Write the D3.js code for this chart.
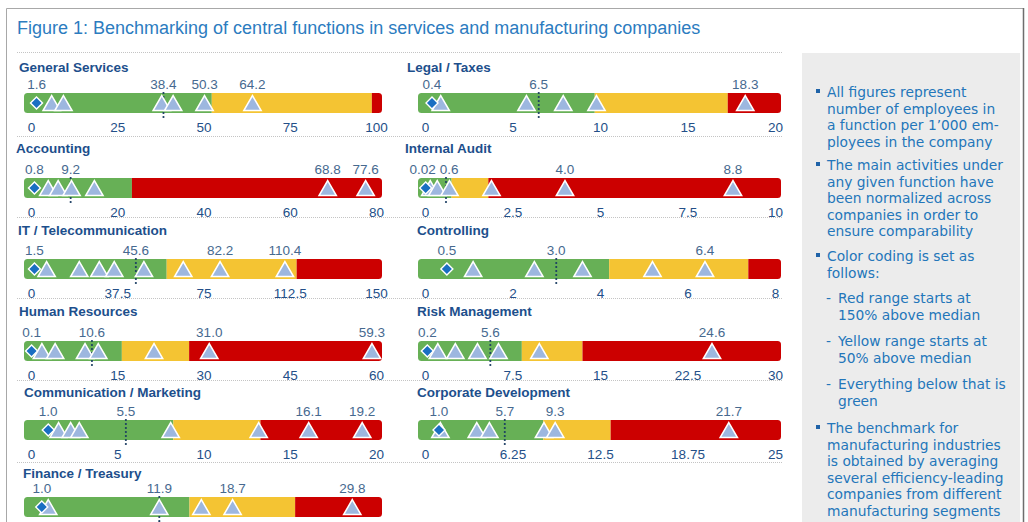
<!DOCTYPE html>
<html>
<head>
<meta charset="utf-8">
<script src="https://cdn.jsdelivr.net/npm/d3@7"></script>
<style>
  html, body { margin: 0; padding: 0; background: #fff; }
  svg { display: block; }
</style>
</head>
<body>
<svg id="fig" width="1028" height="522"></svg>
<script>
// Central functions benchmarked (employees per 1'000 employees)
const functionNames = [
  "General Services", "Legal / Taxes",
  "Accounting", "Internal Audit",
  "IT / Telecommunication", "Controlling",
  "Human Resources", "Risk Management",
  "Communication / Marketing", "Corporate Development",
  "Finance / Treasury"
];
const axisMax = [100, 20, 80, 10, 150, 8, 60, 30, 20, 25, 32];
// Finance / Treasury sits at the foot of the page, its scale runs below the fold
const axisTicks = [
  [0, 25, 50, 75, 100], [0, 5, 10, 15, 20],
  [0, 20, 40, 60, 80], [0, 2.5, 5, 7.5, 10],
  [0, 37.5, 75, 112.5, 150], [0, 2, 4, 6, 8],
  [0, 15, 30, 45, 60], [0, 7.5, 15, 22.5, 30],
  [0, 5, 10, 15, 20], [0, 6.25, 12.5, 18.75, 25],
  []
];
// Manufacturing benchmark (diamond)
const manufacturing = [1.6, 0.4, 0.8, 0.02, 1.5, 0.5, 0.1, 0.2, 1.0, 1.0, 1.0];
// Median of the services companies (dotted line)
const medians = [38.4, 6.5, 9.2, 0.6, 45.6, 3.0, 10.6, 5.6, 5.5, 5.7, 11.9];
// Start of the yellow and red ranges
const yellowFrom = [52.4, 9.7, 23.4, 0.76, 59.0, 4.21, 15.8, 8.3, 8.25, 8.45, 14.7];
const redFrom = [98.8, 17.3, 23.4, 1.81, 115.5, 7.39, 27.5, 13.5, 13.3, 13.26, 24.5];
// Individual services companies (triangles)
const services = [
  [6.0, 9.4, 37.9, 41.2, 50.3, 64.2],
  [0.9, 5.8, 7.9, 9.8, 18.3],
  [4.0, 6.3, 9.4, 14.7, 68.8, 77.6],
  [0.15, 0.35, 0.7, 1.9, 4.0, 8.8],
  [6.8, 21.0, 29.7, 36.2, 49.1, 66.2, 82.2, 110.4],
  [1.1, 2.5, 3.6, 5.2, 6.4],
  [1.9, 4.2, 9.4, 11.7, 21.4, 31.0, 59.3],
  [1.1, 2.6, 4.5, 6.3, 9.8, 24.6],
  [1.6, 2.3, 2.8, 8.1, 13.2, 16.1, 19.2],
  [1.1, 3.7, 4.6, 8.5, 9.3, 21.7],
  [1.6, 11.9, 15.8, 18.7, 29.8]
];
// Values printed above each bar
const valueLabels = [
  ["1.6", "38.4", "50.3", "64.2"],
  ["0.4", "6.5", "18.3"],
  ["0.8", "9.2", "68.8", "77.6"],
  ["0.02", "0.6", "4.0", "8.8"],
  ["1.5", "45.6", "82.2", "110.4"],
  ["0.5", "3.0", "6.4"],
  ["0.1", "10.6", "31.0", "59.3"],
  ["0.2", "5.6", "24.6"],
  ["1.0", "5.5", "16.1", "19.2"],
  ["1.0", "5.7", "9.3", "21.7"],
  ["1.0", "11.9", "18.7", "29.8"]
];

const notes = [
  { sub: false, lines: ["All figures represent", "number of employees in", "a function per 1\u2019000 em-", "ployees in the company"] },
  { sub: false, lines: ["The main activities under", "any given function have", "been normalized across", "companies in order to", "ensure comparability"] },
  { sub: false, lines: ["Color coding is set as", "follows:"] },
  { sub: true, lines: ["Red range starts at", "150% above median"] },
  { sub: true, lines: ["Yellow range starts at", "50% above median"] },
  { sub: true, lines: ["Everything below that is", "green"] },
  { sub: false, lines: ["The benchmark for", "manufacturing industries", "is obtained by averaging", "several efficiency-leading", "companies from different", "manufacturing segments"] }
];

// ---- layout ----
const C = {
  green: "#67b056", yellow: "#f4c433", red: "#cc0000",
  tri: "#9db7df", diamond: "#1a6fc2", median: "#1b3d62",
  title: "#2c7cbf", head: "#1d4f8c", value: "#46698f", tick: "#234f88",
  note: "#2376ba"
};
const colBar = [[24, 382], [418, 781]];
const titleX = [19, 407, 16, 405, 18, 417, 19, 417, 24, 417, 23];
const rowBarTop = [93, 178, 259, 341, 420, 497];
const rowHeadBase = [72, 153, 235, 316, 397, 478];
const separators = [52, 136, 217, 298, 380, 462];
const barH = 20;

const svg = d3.select("#fig");
const font = "'Liberation Sans', Arial, sans-serif";

// frame
svg.append("path")
  .attr("d", "M6.5,522 V8.5 H1023.5 V522")
  .attr("fill", "none").attr("stroke", "#a8a8a8").attr("stroke-width", 1);
svg.append("line").attr("x1", 1023.5).attr("x2", 1023.5).attr("y1", 8).attr("y2", 522)
  .attr("stroke", "#6e6e6e").attr("stroke-width", 1.5);

// notes panel background
svg.append("rect").attr("x", 802).attr("y", 53).attr("width", 218).attr("height", 480)
  .attr("fill", "#ececec");

// figure title
svg.append("text")
  .attr("x", 17).attr("y", 34)
  .attr("font-family", font).attr("font-size", 18).attr("fill", C.title)
  .text("Figure 1: Benchmarking of central functions in services and manufacturing companies");

// dotted separators
svg.selectAll("line.sep").data(separators).join("line")
  .attr("class", "sep")
  .attr("x1", 17).attr("x2", 783)
  .attr("y1", d => d + 0.5).attr("y2", d => d + 0.5)
  .attr("stroke", "#c4c4c4").attr("stroke-width", 1).attr("stroke-dasharray", "1,1");

const defs = svg.append("defs");

functionNames.forEach((name, i) => {
  const col = i % 2, row = Math.floor(i / 2);
  const [bx0, bx1] = colBar[col];
  const top = rowBarTop[row];
  const x = d3.scaleLinear().domain([0, axisMax[i]]).range([bx0 + 7, bx1 - 6]);
  const g = svg.append("g").attr("class", "panel");

  // heading
  g.append("text")
    .attr("x", titleX[i]).attr("y", rowHeadBase[row])
    .attr("font-family", font).attr("font-weight", "bold").attr("font-size", 13.5)
    .attr("fill", C.head).text(name);

  // colour-coded bar
  const clipId = "clip" + i;
  defs.append("clipPath").attr("id", clipId)
    .append("rect").attr("x", bx0).attr("y", top).attr("width", bx1 - bx0).attr("height", barH)
    .attr("rx", 3.5);
  const bands = [
    { from: bx0, to: x(yellowFrom[i]), color: C.green },
    { from: x(yellowFrom[i]), to: x(redFrom[i]), color: C.yellow },
    { from: x(redFrom[i]), to: bx1, color: C.red }
  ];
  g.append("g").attr("clip-path", `url(#${clipId})`)
    .selectAll("rect").data(bands).join("rect")
    .attr("x", d => d.from).attr("width", d => Math.max(0, d.to - d.from))
    .attr("y", top).attr("height", barH).attr("fill", d => d.color);

  // median
  g.append("line")
    .attr("x1", x(medians[i])).attr("x2", x(medians[i]))
    .attr("y1", top).attr("y2", top + barH + 8)
    .attr("stroke", C.median).attr("stroke-width", 2.2)
    .attr("stroke-linecap", "round").attr("stroke-dasharray", "0,4");

  // services companies
  g.selectAll("path.tri").data(services[i]).join("path")
    .attr("class", "tri")
    .attr("d", d3.symbol(d3.symbolTriangle, 130)())
    .attr("transform", d => `translate(${x(d)},${top + 12.6})`)
    .attr("fill", C.tri).attr("stroke", "#fff").attr("stroke-width", 1.5);

  // manufacturing benchmark
  g.append("path")
    .attr("d", d3.symbol(d3.symbolSquare, 72)())
    .attr("transform", `translate(${x(manufacturing[i])},${top + barH / 2}) rotate(45)`)
    .attr("fill", C.diamond).attr("stroke", "#fff").attr("stroke-width", 1.4);

  // value labels above the bar
  const labels = g.selectAll("text.val").data(valueLabels[i]).join("text")
    .attr("class", "val")
    .attr("x", d => x(+d)).attr("y", top - 4)
    .attr("text-anchor", "middle")
    .attr("font-family", font).attr("font-size", 13.5).attr("fill", C.value)
    .text(d => d);
  // keep neighbouring labels apart
  const nodes = labels.nodes();
  for (let k = 1; k < nodes.length; k++) {
    const a = nodes[k - 1], b = nodes[k];
    const wa = a.getComputedTextLength(), wb = b.getComputedTextLength();
    const xa = +a.getAttribute("x"), xb = +b.getAttribute("x");
    const gap = (xb - wb / 2) - (xa + wa / 2);
    if (gap < 4) {
      const shift = (4 - gap) / 2;
      a.setAttribute("x", xa - shift);
      b.setAttribute("x", xb + shift);
    }
  }

  // axis
  if (axisTicks[i].length) {
    const axis = d3.axisBottom(x).tickValues(axisTicks[i]).tickSize(0).tickPadding(0)
      .tickFormat(d3.format("~g"));
    const ag = g.append("g").attr("transform", `translate(0,${top + barH + 19})`).call(axis);
    ag.select(".domain").remove();
    ag.selectAll("text")
      .attr("dy", 0).attr("y", 0)
      .attr("font-family", font).attr("font-size", 13.5).attr("fill", C.tick);
  }
});

// notes
const noteFont = "'DejaVu Sans', Verdana, sans-serif";
const noteStart = [97, 170, 261, 303, 346, 389, 433];
const lh = 16.5;
const ng = svg.append("g");
notes.forEach((n, k) => {
  const y0 = noteStart[k];
  const tx = n.sub ? 838 : 827;
  if (n.sub) {
    ng.append("text").attr("x", 826).attr("y", y0)
      .attr("font-family", noteFont).attr("font-size", 13.8).attr("fill", C.note).text("-");
  } else {
    ng.append("rect").attr("x", 816).attr("y", y0 - 8).attr("width", 4).attr("height", 4)
      .attr("fill", "#1f63a8");
  }
  const t = ng.append("text").attr("font-family", noteFont).attr("font-size", 13.8).attr("fill", C.note);
  n.lines.forEach((ln, j) => {
    t.append("tspan").attr("x", tx).attr("y", y0 + j * lh).text(ln);
  });
});
</script>
</body>
</html>
